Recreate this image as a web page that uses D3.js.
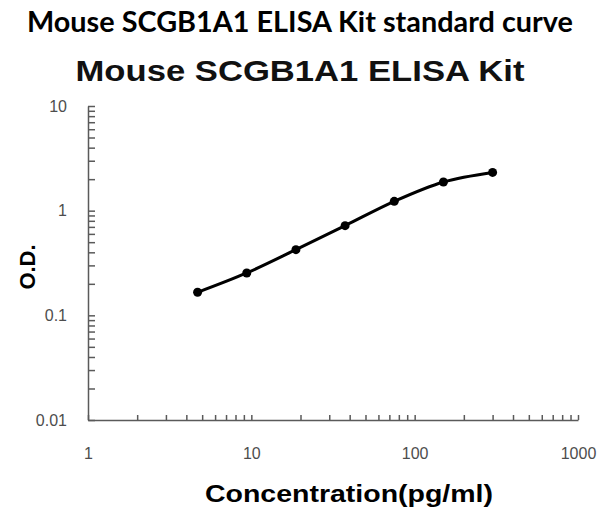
<!DOCTYPE html>
<html>
<head>
<meta charset="utf-8">
<script src="https://cdn.jsdelivr.net/npm/d3@7"></script>
<style>
  body { margin: 0; background: #fff; }
  svg { display: block; }
</style>
</head>
<body>
<svg id="chart"></svg>
<script>
// standard curve points
const concentrations = [4.6875, 9.375, 18.75, 37.5, 75, 150, 300];
const odValues = [0.166, 0.254, 0.424, 0.719, 1.227, 1.88, 2.32];
const xTickLabels = [1, 10, 100, 1000];
const yTickLabels = [0.01, 0.1, 1, 10];

const width = 602, height = 507;

const svg = d3.select('#chart')
    .attr("width", width)
    .attr("height", height);

const xScale = d3.scaleLog()
    .domain([1, 1000])
    .range([88, 578]);

const yScale = d3.scaleLog()
    .domain([0.01, 10])
    .range([420, 106]);

// minor ticks for every decade
function logTicks(lo, hi) {
    const t = [];
    for (let d = lo; d < hi; d *= 10) {
        for (let m = 1; m < 10; m++) t.push(+(d * m).toPrecision(6));
    }
    t.push(hi);
    return t;
}

// main title
svg.append("text")
    .attr("x", 300)
    .attr("y", 32)
    .attr("text-anchor", "middle")
    .attr("textLength", 546)
    .attr("lengthAdjust", "spacingAndGlyphs")
    .style("font-family", "Lato, 'Open Sans', sans-serif")
    .style("font-weight", "bold")
    .style("font-size", "28px")
    .text("Mouse SCGB1A1 ELISA Kit standard curve");

// chart title
svg.append("text")
    .attr("x", 300)
    .attr("y", 81)
    .attr("text-anchor", "middle")
    .attr("textLength", 449)
    .attr("lengthAdjust", "spacingAndGlyphs")
    .style("font-family", "'Liberation Sans', Arial, sans-serif")
    .style("font-weight", "bold")
    .style("font-size", "30px")
    .style("fill", "#111")
    .text("Mouse SCGB1A1 ELISA Kit");

const y_axis = d3.axisLeft(yScale)
    .tickValues(logTicks(0.01, 10))
    .tickSizeInner(-7)
    .tickSizeOuter(0)
    .tickPadding(21)
    .tickFormat(d => yTickLabels.includes(d) ? String(d) : "");

const x_axis = d3.axisBottom(xScale)
    .tickValues(logTicks(1, 1000))
    .tickSizeInner(-5)
    .tickSizeOuter(0)
    .tickPadding(28)
    .tickFormat(d => xTickLabels.includes(d) ? String(d) : "");

svg.append("g")
    .attr("transform", "translate(88, 0)")
    .call(y_axis);

svg.append("g")
    .attr("transform", "translate(0, 420)")
    .call(x_axis);

svg.selectAll(".domain, .tick line")
    .attr("stroke", "#5a5a5a")
    .attr("stroke-width", 1.5);

svg.selectAll(".tick text")
    .style("font-family", "'Liberation Sans', Arial, sans-serif")
    .style("font-size", "16px")
    .attr("fill", "#4d4d4d");

// axis titles
svg.append("text")
    .attr("transform", "translate(35, 267) rotate(-90)")
    .attr("text-anchor", "middle")
    .style("font-family", "'Liberation Sans', Arial, sans-serif")
    .style("font-weight", "bold")
    .style("font-size", "22px")
    .text("O.D.");

svg.append("text")
    .attr("x", 349)
    .attr("y", 502)
    .attr("text-anchor", "middle")
    .attr("textLength", 288)
    .attr("lengthAdjust", "spacingAndGlyphs")
    .style("font-family", "'Liberation Sans', Arial, sans-serif")
    .style("font-weight", "bold")
    .style("font-size", "23px")
    .text("Concentration(pg/ml)");

const points = concentrations.map((c, i) => [c, odValues[i]]);

const line = d3.line()
    .x(d => xScale(d[0]))
    .y(d => yScale(d[1]))
    .curve(d3.curveCatmullRom.alpha(0.5));

svg.append("path")
    .datum(points)
    .attr("d", line)
    .attr("fill", "none")
    .attr("stroke", "#000")
    .attr("stroke-width", 3);

svg.selectAll("circle.pt")
    .data(points)
    .enter()
    .append("circle")
    .attr("class", "pt")
    .attr("cx", d => xScale(d[0]))
    .attr("cy", d => yScale(d[1]))
    .attr("r", 4.5)
    .attr("fill", "#000");
</script>
</body>
</html>
